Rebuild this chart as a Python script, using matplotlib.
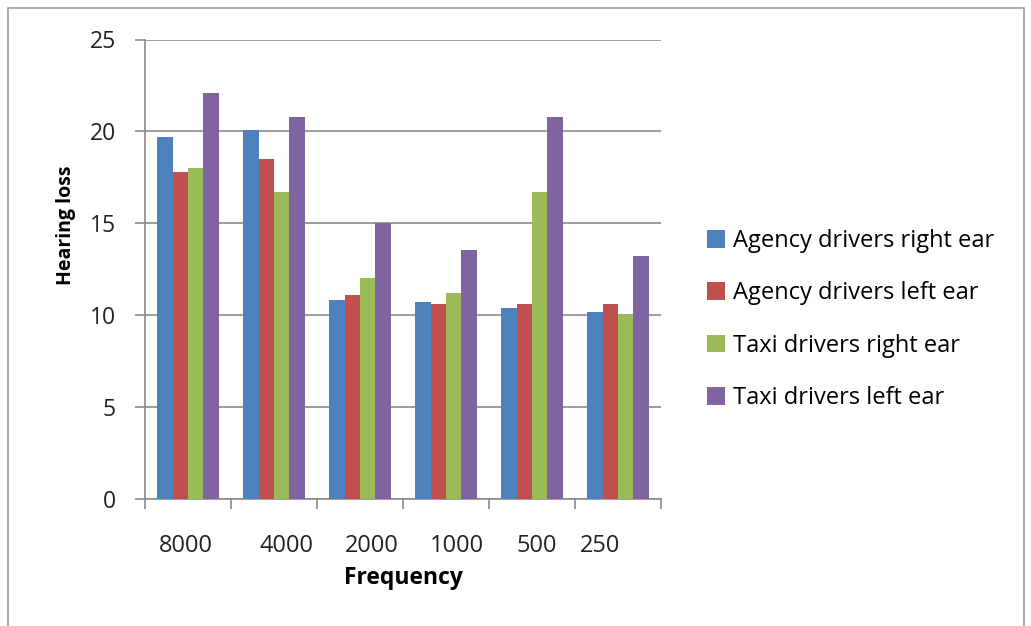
import numpy as np
import matplotlib
matplotlib.use('Agg')
import matplotlib.pyplot as plt
from matplotlib.patches import Rectangle
from matplotlib.transforms import ScaledTranslation

# Données
freqs = ['8000', '4000', '2000', '1000', '500', '250']
agency_right = [19.7, 20.1, 10.85, 10.7, 10.4, 10.15]
agency_left = [17.8, 18.5, 11.1, 10.6, 10.6, 10.6]
taxi_right = [18.0, 16.7, 12.0, 11.2, 16.7, 10.0]
taxi_left = [22.1, 20.8, 15.0, 13.55, 20.8, 13.2]

labels = ['Agency drivers right ear', 'Agency drivers left ear',
          'Taxi drivers right ear', 'Taxi drivers left ear']
colors = ['#4F81BD', '#C0504D', '#9BBB59', '#8064A2']
series = [agency_right, agency_left, taxi_right, taxi_left]

# décalage horizontal (px) des étiquettes de l'axe x, comme sur l'original
decal_px = [-2, 13, 12, 11, 5, -18]

plt.rcParams['font.family'] = ['Open Sans', 'DejaVu Sans']

fig = plt.figure(figsize=(10.31, 6.26), dpi=100)
ax = fig.add_axes([145/1031, 1-499/626, (661-145)/1031, (499-39.5)/626])

x = np.arange(len(freqs))
w = 0.18
for i, (vals, lab, col) in enumerate(zip(series, labels, colors)):
    ax.bar(x + (i - 1.5)*w, vals, width=w, color=col, label=lab, zorder=3)

ax.set_xlim(-0.5, len(freqs) - 0.5)
ax.set_ylim(0, 25)
ax.set_yticks(np.arange(0, 26, 5))
ax.set_xticks(x)
ax.set_xticklabels(freqs)
ax.set_xticks(np.arange(-0.5, len(freqs)), minor=True)

gris = '#8c8c8c'
ax.grid(axis='y', color=gris, lw=1.2, zorder=0)
for s in ['top', 'right']:
    ax.spines[s].set_visible(False)
for s in ['left', 'bottom']:
    ax.spines[s].set_color(gris)
    ax.spines[s].set_linewidth(1.2)

ax.tick_params(axis='y', length=7, width=1.2, color=gris, pad=14,
               labelsize=16.5, labelcolor='#222222')
ax.tick_params(axis='x', which='major', length=0, pad=25,
               labelsize=17, labelcolor='#222222')
ax.tick_params(axis='x', which='minor', length=7, width=1.2, color=gris)

for lbl, d in zip(ax.get_xticklabels(), decal_px):
    lbl.set_transform(lbl.get_transform() + ScaledTranslation(d/100, 0, fig.dpi_scale_trans))

ax.set_ylabel('Hearing loss', fontsize=14, fontweight='bold')
ax.yaxis.set_label_coords(-0.134, 0.596)
ax.set_xlabel('Frequency', fontsize=16.5, fontweight='bold', labelpad=6)

fig.legend(loc='center left', bbox_to_anchor=(0.6654, 0.4896), frameon=False,
           fontsize=17, labelspacing=1.2, handlelength=0.76,
           handleheight=0.76, handletextpad=0.35)

# Cadre autour du graphique
fig.patches.append(Rectangle((8/1031, -0.01), (1024-8)/1031, 1 - 8/626 + 0.01,
                             transform=fig.transFigure, fill=False,
                             edgecolor='#a0a0a0', lw=1.2))

fig.savefig('out.png', dpi=100)
